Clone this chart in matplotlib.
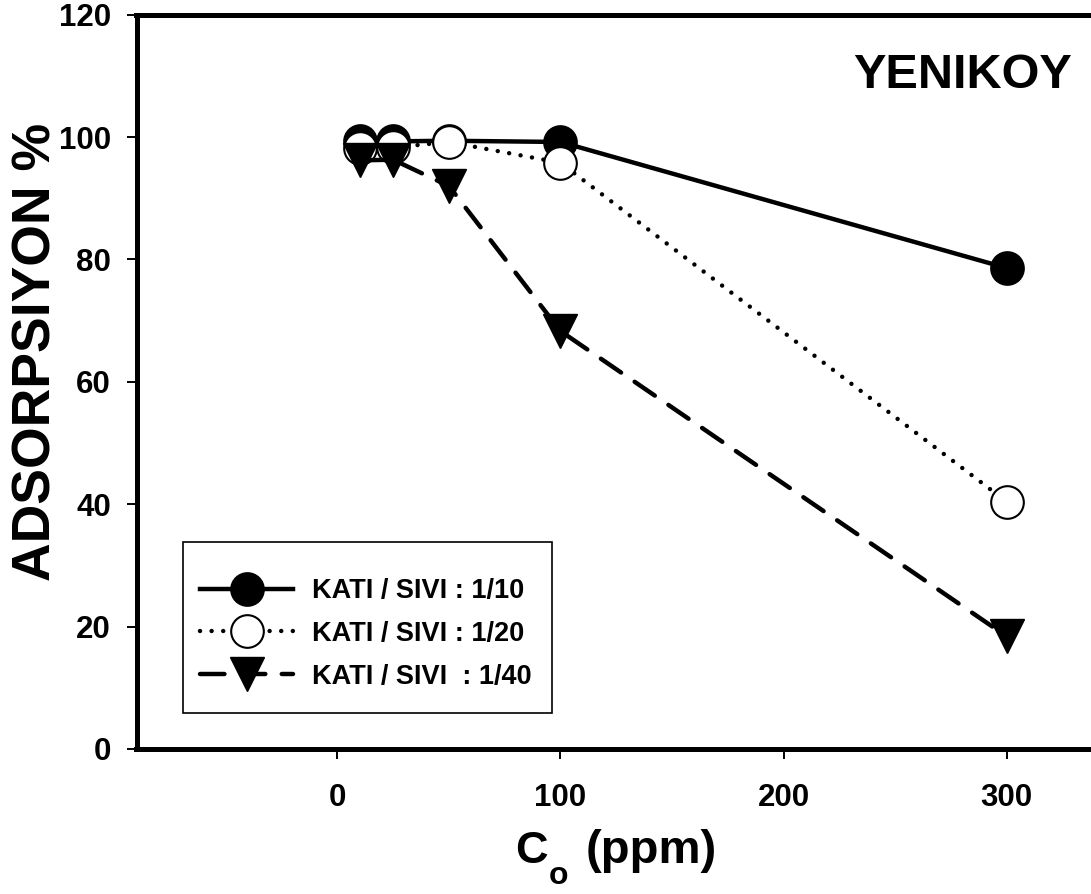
import matplotlib
matplotlib.use('Agg')
import matplotlib.pyplot as plt
from matplotlib.patches import Rectangle

# ---- data ----
conc = [10, 25, 50, 100, 300]
ratio_10 = [99.3, 99.3, 99.4, 99.2, 78.6]
ratio_20 = [98.2, 98.3, 99.2, 95.8, 40.4]
ratio_40 = [96.2, 96.3, 92.0, 68.3, 18.4]
labels = ['KATI / SIVI : 1/10', 'KATI / SIVI : 1/20', 'KATI / SIVI  : 1/40']
xticks = [0, 100, 200, 300]
yticks = [0, 20, 40, 60, 80, 100, 120]

plt.rcParams['font.family'] = ['Liberation Sans', 'DejaVu Sans']
plt.rcParams['font.weight'] = 'bold'

W, H = 1091, 894
fig = plt.figure(figsize=(W / 100, H / 100), dpi=100)
ax = fig.add_axes([136.5 / W, 1 - 749 / H, (1096 - 136.5) / W, (749 - 14.7) / H])

ax.plot(conc, ratio_10, color='black', lw=3.2, ls='-', marker='o', ms=23.5,
        mfc='black', mec='black', mew=1.5, label=labels[0], zorder=3)
ax.plot(conc, ratio_20, color='black', lw=3.2, ls=(0, (0.01, 2.6)),
        dash_capstyle='round', marker='o', ms=23.5, mfc='white', mec='black',
        mew=1.5, label=labels[1], zorder=4)
ax.plot(conc, ratio_40, color='black', lw=3.2, ls=(0, (5.5, 3.7)),
        dash_capstyle='round', marker='v', ms=24, mfc='black', mec='black',
        mew=1, label=labels[2], zorder=5)

ax.set_xlim(-90, 340)
ax.set_ylim(0, 120)
ax.set_xticks(xticks)
ax.set_yticks(yticks)
ax.tick_params(axis='both', direction='out', length=7, width=1.4, labelsize=22.5,
               top=False, right=False)
ax.tick_params(axis='y', pad=11.5)
ax.tick_params(axis='x', pad=17.5)
for lbl in ax.get_xticklabels() + ax.get_yticklabels():
    lbl.set_fontweight('bold')
for s in ['left', 'bottom', 'top']:
    ax.spines[s].set_linewidth(3.6)
ax.spines['right'].set_visible(False)

fig.text(37 / W, 1 - 352 / H, 'ADSORPSIYON %', rotation=90, ha='center',
         va='center', fontsize=38.5, fontweight='bold')

# x label: C with subscript o, then (ppm)
fig.text(515 / W, 1 - 863 / H, 'C', ha='left', va='baseline',
         fontsize=32.5, fontweight='bold')
fig.text(549 / W, 1 - 884 / H, 'o', ha='left', va='baseline',
         fontsize=23, fontweight='bold')
fig.text(717 / W, 1 - 863 / H, '(ppm)', ha='right', va='baseline',
         fontsize=34, fontweight='bold')

fig.text(853 / W, 1 - 88 / H, 'YENIKOY', ha='left', va='baseline',
         fontsize=35, fontweight='bold')

leg = ax.legend(loc='upper left', bbox_to_anchor=(200 / W, 1 - 578 / H),
                bbox_transform=fig.transFigure, frameon=False, fontsize=19.5,
                handlelength=3.45, handletextpad=0.7, labelspacing=0.62,
                borderpad=0, borderaxespad=0)
for t in leg.get_texts():
    t.set_fontweight('bold')
fig.add_artist(Rectangle((183 / W, 1 - 713 / H), (552 - 183) / W, (713 - 542) / H,
                         transform=fig.transFigure, fill=False, lw=1.2,
                         edgecolor='black'))

fig.savefig('out.png', dpi=100)
